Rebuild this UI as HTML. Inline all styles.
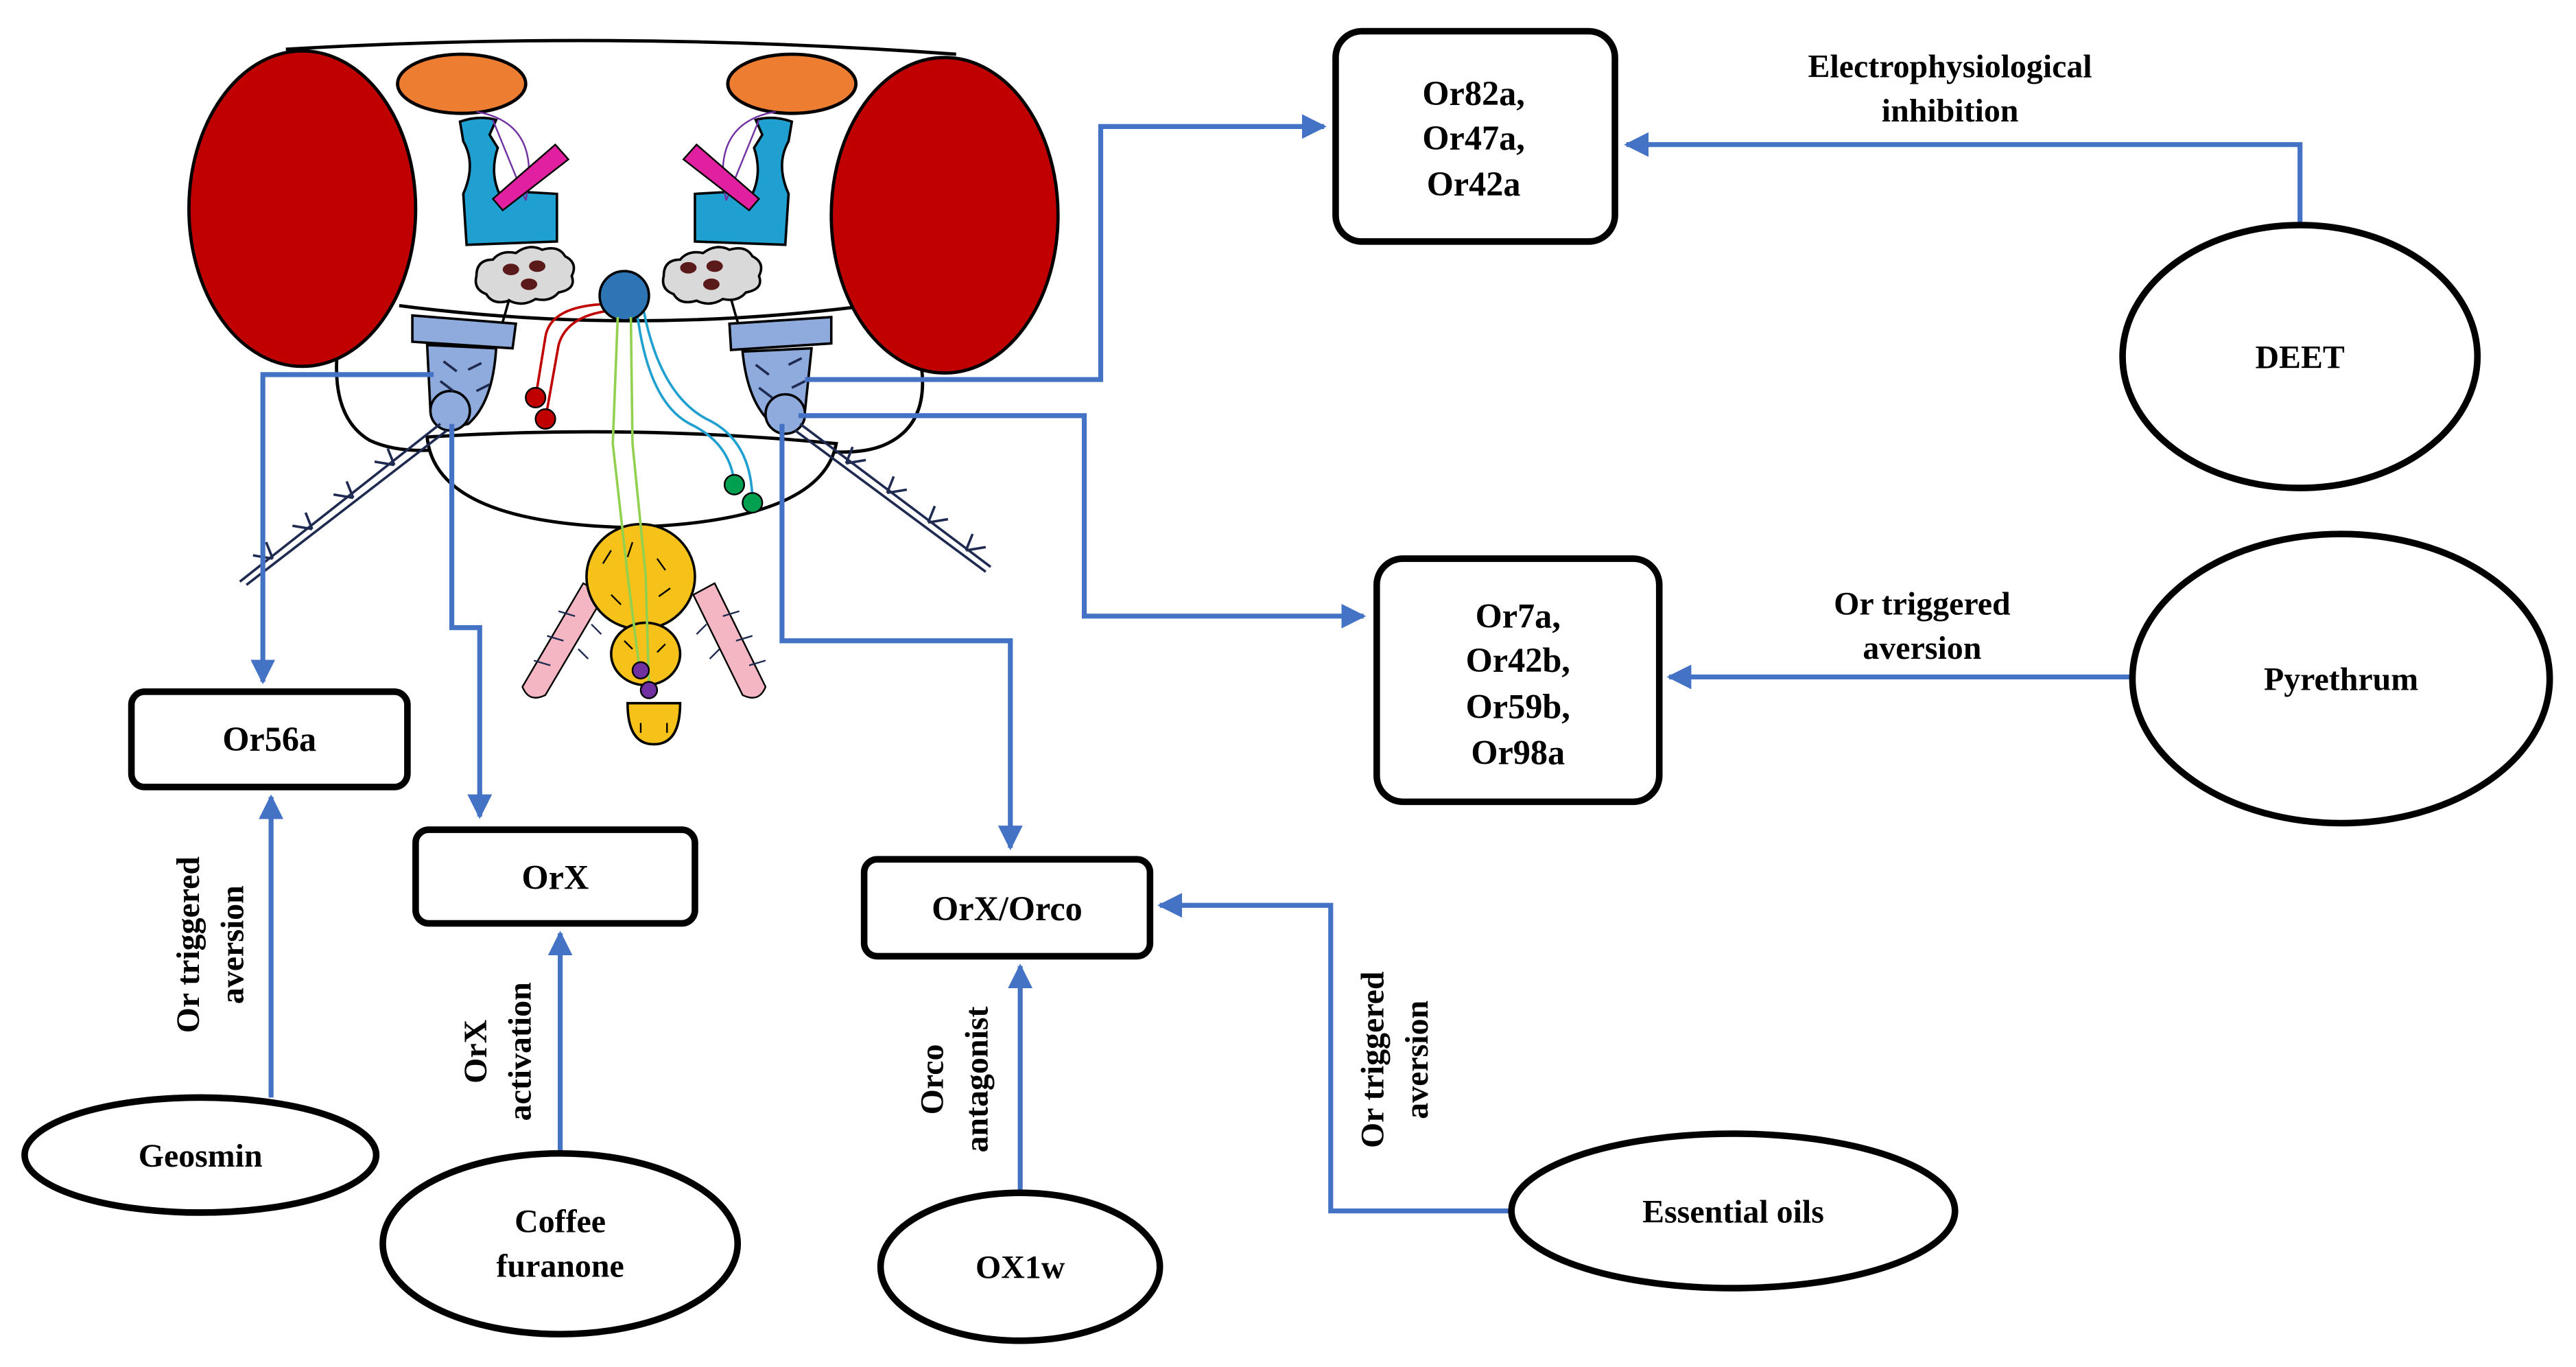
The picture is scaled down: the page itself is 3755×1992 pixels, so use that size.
<!DOCTYPE html>
<html><head><meta charset="utf-8"><style>
html,body{margin:0;padding:0;background:#fff;}
svg{display:block;}
svg text{font-family:"Liberation Serif","Times New Roman","DejaVu Serif",serif !important;font-weight:bold;fill:#000;}
</style></head><body>
<svg width="3755" height="1992" viewBox="0 0 1568 832" preserveAspectRatio="none" xmlns="http://www.w3.org/2000/svg">
<defs>
<marker id="ah" viewBox="0 0 10 10" refX="9" refY="5" markerWidth="5" markerHeight="5" orient="auto" markerUnits="strokeWidth">
<path d="M0,0 L10,5 L0,10 z" fill="#4472C4"/></marker>
</defs>
<rect width="1568" height="832" fill="#fff"/>

<!-- head capsule -->
<path d="M174,30 Q374,18 582,33" fill="none" stroke="#000" stroke-width="2"/>
<path d="M243,186 Q381,204 520,187" fill="none" stroke="#000" stroke-width="2"/>
<path d="M205,218 Q203,255 225,268 Q240,275 262,274" fill="none" stroke="#000" stroke-width="2"/>
<path d="M561,224 Q565,258 540,270 Q528,276 506,275" fill="none" stroke="#000" stroke-width="2"/>
<path d="M260,266 Q385,258 509,270 Q500,318 381,321 Q265,318 260,266 z" fill="#fff" stroke="#000" stroke-width="2"/>

<!-- eyes -->
<ellipse cx="184" cy="127" rx="69" ry="96" fill="#C00000" stroke="#000" stroke-width="2"/>
<ellipse cx="575" cy="131" rx="69" ry="96" fill="#C00000" stroke="#000" stroke-width="2"/>

<!-- orange ovals -->
<ellipse cx="281" cy="51" rx="39" ry="18" fill="#ED7D31" stroke="#000" stroke-width="2"/>
<ellipse cx="482" cy="51" rx="39" ry="18" fill="#ED7D31" stroke="#000" stroke-width="2"/>

<!-- mushroom bodies -->
<path d="M280,74 Q292,70 302,73 L298,82 L303,90 Q298,105 304,118 L322,117 L339,118 L339,147 L284,149 L282,118 Q290,100 282,86 z" fill="#1FA0D0" stroke="#000" stroke-width="1.5"/>
<path d="M482,74 Q470,70 460,73 L464,82 L459,90 Q464,105 458,118 L440,117 L423,118 L423,147 L478,149 L480,118 Q472,100 480,86 z" fill="#1FA0D0" stroke="#000" stroke-width="1.5"/>
<path d="M290,68 Q330,75 320,122" fill="none" stroke="#7030A0" stroke-width="1"/>
<path d="M472,68 Q432,75 442,122" fill="none" stroke="#7030A0" stroke-width="1"/>
<path d="M300,73 L320,122" fill="none" stroke="#7030A0" stroke-width="1"/>
<path d="M462,73 L442,122" fill="none" stroke="#7030A0" stroke-width="1"/>
<path d="M338,88 L346,97 L306,128 L300,121 z" fill="#E020A0" stroke="#000" stroke-width="1"/>
<path d="M424,88 L416,97 L456,128 L462,121 z" fill="#E020A0" stroke="#000" stroke-width="1"/>

<!-- antennal lobes (clouds) -->
<g fill="#D9D9D9" stroke="#000" stroke-width="1.5">
<path d="M290,168 q0,-10 10,-10 q5,-6 14,-4 q8,-6 16,-2 q10,-3 14,4 q8,4 4,12 q3,8 -8,10 q-5,6 -14,4 q-8,5 -16,1 q-10,3 -14,-4 q-8,-3 -6,-11 z"/>
<path d="M404,168 q0,-10 10,-10 q5,-6 14,-4 q8,-6 16,-2 q10,-3 14,4 q8,4 4,12 q3,8 -8,10 q-5,6 -14,4 q-8,5 -16,1 q-10,3 -14,-4 q-8,-3 -6,-11 z"/>
</g>
<g fill="#5A1A1A">
<ellipse cx="311" cy="164" rx="5" ry="3.5"/><ellipse cx="327" cy="162" rx="5" ry="3.5"/><ellipse cx="322" cy="173" rx="5" ry="3.5"/>
<ellipse cx="419" cy="163" rx="5" ry="3.5"/><ellipse cx="435" cy="162" rx="5" ry="3.5"/><ellipse cx="433" cy="173" rx="5" ry="3.5"/>
</g>
<path d="M310,182 Q305,200 300,215 L290,240" fill="none" stroke="#000" stroke-width="1.5"/>
<path d="M445,182 Q450,200 455,215 L468,240" fill="none" stroke="#000" stroke-width="1.5"/>

<!-- neurons -->
<path d="M370,185 Q335,186 332,205 L326,242" fill="none" stroke="#C00000" stroke-width="1.5"/>
<path d="M372,189 Q345,192 340,210 L332,255" fill="none" stroke="#C00000" stroke-width="1.5"/>
<circle cx="326" cy="242" r="6" fill="#C00000" stroke="#000"/>
<circle cx="332" cy="255" r="6" fill="#C00000" stroke="#000"/>
<path d="M388,192 Q395,245 420,258 Q445,270 447,295" fill="none" stroke="#1FA0D0" stroke-width="1.5"/>
<path d="M392,190 Q402,240 430,255 Q458,268 458,306" fill="none" stroke="#1FA0D0" stroke-width="1.5"/>
<circle cx="447" cy="295" r="6" fill="#00A050" stroke="#000"/>
<circle cx="458" cy="306" r="6" fill="#00A050" stroke="#000"/>
<circle cx="380" cy="180" r="15" fill="#2E75B6" stroke="#000" stroke-width="1.5"/>

<!-- antennae -->
<g fill="#8FAADC" stroke="#000" stroke-width="1.5">
<path d="M251,192 L314,197 L312,212 L251,208 z"/>
<path d="M444,197 L506,193 L506,209 L445,213 z"/>
<path d="M260,210 L302,212 Q300,245 285,258 Q268,262 262,250 z"/>
<path d="M452,214 L494,212 L490,250 Q484,262 470,258 Q455,245 452,214 z"/>
<circle cx="274" cy="250" r="12"/>
<circle cx="478" cy="252" r="12"/>
</g>
<g stroke="#1F2A50" stroke-width="1.5" fill="none">
<path d="M268,258 L146,354"/><path d="M272,262 L150,356"/>
<path d="M487,258 L603,345"/><path d="M484,262 L600,348"/>
<path d="M240,283 l-4,-10 M240,283 l-12,-2 M215,303 l-4,-10 M215,303 l-12,-2 M190,322 l-4,-10 M190,322 l-12,-2 M166,340 l-4,-10 M166,340 l-12,-2"/>
<path d="M515,282 l4,-10 M515,282 l12,-2 M540,300 l4,-10 M540,300 l12,-2 M565,318 l4,-10 M565,318 l12,-2 M588,335 l4,-10 M588,335 l12,-2"/>
<path d="M270,220 l8,6 M268,232 l8,6 M285,225 l8,-4 M290,238 l8,-4 M460,222 l8,6 M462,236 l8,6 M480,222 l8,-4 M482,236 l8,-4"/>
</g>

<!-- palps -->
<path d="M355,355 L368,362 L332,423 Q322,428 318,418 z" fill="#F4B6C2" stroke="#000" stroke-width="1"/>
<path d="M422,362 L435,355 L466,418 Q462,428 452,423 z" fill="#F4B6C2" stroke="#000" stroke-width="1"/>
<g stroke="#1F2A50" stroke-width="1"><path d="M350,375 l-10,-3 M343,390 l-10,-3 M335,405 l-10,-3 M440,375 l10,-3 M448,390 l10,-3 M456,405 l10,-3 M360,380 l6,6 M352,395 l6,6 M430,380 l-6,6 M438,395 l-6,6"/></g>

<!-- proboscis -->
<ellipse cx="390" cy="351" rx="33" ry="32" fill="#F6C21A" stroke="#000" stroke-width="1.5"/>
<ellipse cx="393" cy="398" rx="21" ry="19" fill="#F6C21A" stroke="#000" stroke-width="1.5"/>
<path d="M382,428 L414,428 Q414,453 398,453 Q382,453 382,428 z" fill="#F6C21A" stroke="#000" stroke-width="1.5"/>
<g stroke="#000" stroke-width="1"><path d="M372,335 l-5,8 M385,330 l-3,9 M400,340 l5,7 M408,358 l-7,5 M372,362 l6,6 M380,390 l5,5 M405,392 l-5,5 M390,440 l0,6 M406,440 l0,6"/></g>
<path d="M376,193 L373,270 L382,350 L389,405" fill="none" stroke="#92D050" stroke-width="1.5"/>
<path d="M384,193 L385,270 L393,350 L395,418" fill="none" stroke="#92D050" stroke-width="1.5"/>
<circle cx="390" cy="408" r="5" fill="#7030A0" stroke="#000"/>
<circle cx="395" cy="420" r="5" fill="#7030A0" stroke="#000"/>

<!-- connectors -->
<g fill="none" stroke="#4472C4" stroke-width="3">
<polyline points="490,231 670,231 670,77 806,77" marker-end="url(#ah)"/>
<polyline points="1400,137 1400,88 990,88" marker-end="url(#ah)"/>
<polyline points="486,253 660,253 660,375 830,375" marker-end="url(#ah)"/>
<polyline points="1297,412 1016,412" marker-end="url(#ah)"/>
<polyline points="264,228 160,228 160,415" marker-end="url(#ah)"/>
<polyline points="275,258 275,382 292,382 292,497" marker-end="url(#ah)"/>
<polyline points="476,258 476,390 615,390 615,516" marker-end="url(#ah)"/>
<polyline points="165,668 165,485" marker-end="url(#ah)"/>
<polyline points="341,702 341,568" marker-end="url(#ah)"/>
<polyline points="621,726 621,588" marker-end="url(#ah)"/>
<polyline points="920,737 810,737 810,551 706,551" marker-end="url(#ah)"/>
</g>

<!-- boxes -->
<g fill="#fff" stroke="#000" stroke-width="4">
<rect x="813" y="19" width="170" height="128" rx="16"/>
<rect x="838" y="340" width="172" height="148" rx="16"/>
<rect x="80" y="421" width="168" height="58" rx="8"/>
<rect x="253" y="505" width="170" height="57" rx="8"/>
<rect x="526" y="523" width="174" height="59" rx="8"/>
</g>
<g fill="#fff" stroke="#000" stroke-width="4">
<ellipse cx="1400" cy="217" rx="108" ry="80"/>
<ellipse cx="1425" cy="413" rx="127" ry="88"/>
<ellipse cx="122" cy="703" rx="107" ry="35"/>
<ellipse cx="341" cy="757" rx="108" ry="55"/>
<ellipse cx="621" cy="771" rx="85" ry="45"/>
<ellipse cx="1055" cy="737" rx="135" ry="47"/>
</g>

<g font-size="21" text-anchor="middle" font-family="Liberation Serif, serif" font-weight="bold">
<text x="897" y="64">Or82a,</text>
<text x="897" y="91">Or47a,</text>
<text x="897" y="119">Or42a</text>
<text x="924" y="382">Or7a,</text>
<text x="924" y="409">Or42b,</text>
<text x="924" y="437">Or59b,</text>
<text x="924" y="465">Or98a</text>
<text x="164" y="457">Or56a</text>
<text x="338" y="541">OrX</text>
<text x="613" y="560">OrX/Orco</text>
</g>
<g font-size="20" text-anchor="middle" font-family="Liberation Serif, serif" font-weight="bold">
<text x="1400" y="224">DEET</text>
<text x="1425" y="420">Pyrethrum</text>
<text x="122" y="710">Geosmin</text>
<text x="341" y="750">Coffee</text>
<text x="341" y="777">furanone</text>
<text x="621" y="778">OX1w</text>
<text x="1055" y="744">Essential oils</text>
<text x="1187" y="47">Electrophysiological</text>
<text x="1187" y="74">inhibition</text>
<text x="1170" y="374">Or triggered</text>
<text x="1170" y="401">aversion</text>
<text transform="translate(121,575) rotate(-90)">Or triggered</text>
<text transform="translate(148,575) rotate(-90)">aversion</text>
<text transform="translate(296,640) rotate(-90)">OrX</text>
<text transform="translate(323,640) rotate(-90)">activation</text>
<text transform="translate(574,657) rotate(-90)">Orco</text>
<text transform="translate(601,657) rotate(-90)">antagonist</text>
<text transform="translate(842,645) rotate(-90)">Or triggered</text>
<text transform="translate(869,645) rotate(-90)">aversion</text>
</g>
</svg>
</body></html>
